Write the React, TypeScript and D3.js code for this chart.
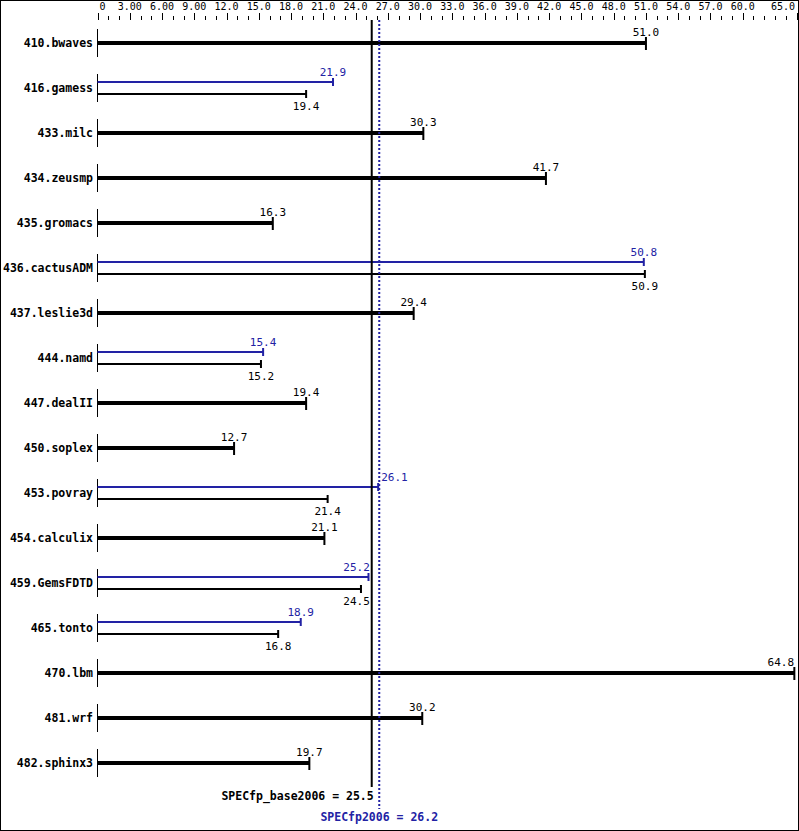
import React from 'react'
import * as d3 from 'd3'

const benchmarks = [
  '410.bwaves', '416.gamess', '433.milc', '434.zeusmp', '435.gromacs', '436.cactusADM',
  '437.leslie3d', '444.namd', '447.dealII', '450.soplex', '453.povray', '454.calculix',
  '459.GemsFDTD', '465.tonto', '470.lbm', '481.wrf', '482.sphinx3'
]
const baseValues = [51.0, 19.4, 30.3, 41.7, 16.3, 50.9, 29.4, 15.2, 19.4, 12.7, 21.4, 21.1, 24.5, 16.8, 64.8, 30.2, 19.7]
// null where there is no peak run
const peakValues: (number | null)[] = [null, 21.9, null, null, null, 50.8, null, 15.4, null, null, 26.1, null, 25.2, 18.9, null, null, null]
const tickLabels = ['0', '3.00', '6.00', '9.00', '12.0', '15.0', '18.0', '21.0', '24.0', '27.0', '30.0', '33.0', '36.0', '39.0', '42.0', '45.0', '48.0', '51.0', '54.0', '57.0', '60.0', '65.0']
const tickValues = [0, 3, 6, 9, 12, 15, 18, 21, 24, 27, 30, 33, 36, 39, 42, 45, 48, 51, 54, 57, 60, 65]
const baseMean = 25.5
const peakMean = 26.2

const W = 799
const H = 831
const BLUE = '#2222a4'
const MONO = '"DejaVu Sans Mono", "Liberation Mono", monospace'
const charW = 6.6

const x = d3.scaleLinear().domain([0, 65]).range([97.5, 796.5])
const y = d3.scalePoint<string>().domain(benchmarks).range([43, 763])

const baseX = x(baseMean)
const peakX = x(peakMean)

// centre a value label on its bar end, but keep it off the mean lines and inside the frame
function labelX(v: number, text: string) {
  const half = (text.length * charW) / 2
  let c = x(v)
  const lo = baseX - 2
  const hi = peakX + 2
  if (c + half > lo && c - half < hi) {
    c = c < (lo + hi) / 2 ? lo - half : hi + half
  }
  if (c + half > W - 5) c = W - 5 - half
  return c
}

const App: React.FC = () => {
  const minorTicks = d3.range(0, 66)
  return (
    <div>
      <style>{`body{margin:0}`}</style>
      <svg width={W} height={H} style={{ display: 'block' }}>
        <rect x={0.5} y={0.5} width={W - 1} height={H - 1} fill="#fff" stroke="#000" />
        {/* top axis */}
        <g fontFamily={MONO} fontSize={10}>
          {minorTicks.map(t => {
            const major = tickValues.includes(t)
            return (
              <line key={t} x1={Math.round(x(t)) + 0.5} x2={Math.round(x(t)) + 0.5}
                y1={major ? 13 : 16} y2={20} stroke="#000" />
            )
          })}
          {tickValues.map((t, i) => {
            let cx = x(t)
            const half = (tickLabels[i].length * 6) / 2
            if (t === 0) cx = x(t) + 5
            if (cx + half > W - 4) cx = W - 4 - half
            return (
              <text key={t} x={cx} y={10} textAnchor="middle" fill="#000">{tickLabels[i]}</text>
            )
          })}
        </g>
        {/* rows */}
        {benchmarks.map((b, i) => {
          const cy = y(b) as number
          const base = baseValues[i]
          const peak = peakValues[i]
          const x0 = x(0)
          return (
            <g key={b}>
              <line x1={97.5} x2={97.5} y1={cy - 14} y2={cy + 14} stroke="#000" />
              <text x={93} y={cy + 4} textAnchor="end" fontFamily={MONO} fontWeight="bold" fontSize={11.5}>{b}</text>
              {peak === null ? (
                <g>
                  <rect x={x0} y={cy - 2} width={x(base) - x0} height={4} fill="#000" />
                  <rect x={x(base) - 1} y={cy - 6} width={2} height={13} fill="#000" />
                  <text x={labelX(base, base.toFixed(1))} y={cy - 7} textAnchor="middle"
                    fontFamily={MONO} fontSize={11} fill="#000">{base.toFixed(1)}</text>
                </g>
              ) : (
                <g>
                  <rect x={x0} y={cy - 7} width={x(peak) - x0} height={2} fill={BLUE} />
                  <rect x={x(peak) - 1} y={cy - 10} width={2} height={8} fill={BLUE} />
                  <text x={labelX(peak, peak.toFixed(1))} y={cy - 12} textAnchor="middle"
                    fontFamily={MONO} fontSize={11} fill={BLUE}>{peak.toFixed(1)}</text>
                  <rect x={x0} y={cy + 5} width={x(base) - x0} height={2} fill="#000" />
                  <rect x={x(base) - 1} y={cy + 2} width={2} height={8} fill="#000" />
                  <text x={labelX(base, base.toFixed(1))} y={cy + 22} textAnchor="middle"
                    fontFamily={MONO} fontSize={11} fill="#000">{base.toFixed(1)}</text>
                </g>
              )}
            </g>
          )
        })}
        {/* mean lines */}
        <line x1={baseX} x2={baseX} y1={20} y2={787} stroke="#000" strokeWidth={2} />
        <line x1={peakX} x2={peakX} y1={20} y2={809} stroke={BLUE} strokeWidth={2} strokeDasharray="2,2" />
        <text x={baseX + 2} y={800} textAnchor="end" fontFamily={MONO} fontWeight="bold" fontSize={11.5} fill="#000">
          {`SPECfp_base2006 = ${baseMean.toFixed(1)}`}
        </text>
        <text x={peakX} y={821} textAnchor="middle" fontFamily={MONO} fontWeight="bold" fontSize={11.5} fill={BLUE}>
          {`SPECfp2006 = ${peakMean.toFixed(1)}`}
        </text>
      </svg>
    </div>
  )
}

export default App
